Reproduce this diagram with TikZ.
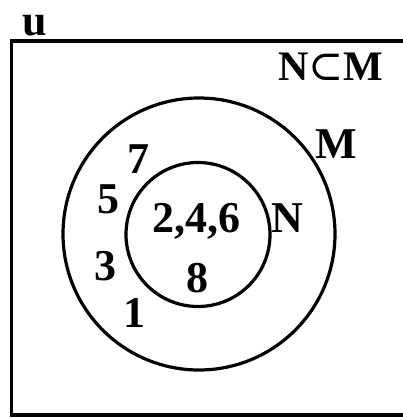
\documentclass[tikz,border=0pt]{standalone}
\usepackage{fontspec}
\setmainfont{Liberation Serif}
\newfontfamily\symfnt{DejaVu Serif}
\tikzset{lbl/.style={anchor=base,inner sep=0pt,font=\fontsize{44}{44}\selectfont\bfseries}}
\begin{document}
\begin{tikzpicture}[x=1pt,y=-1pt,line width=3.2pt]
\useasboundingbox (0,0) rectangle (403,418);
\clip (0,0) rectangle (403,418);
\draw[line width=3.6pt] (11.5,41) rectangle (420,415);
\node[draw,circle,minimum size=272,inner sep=0pt] (M) at (199,234) {};
\node[draw,circle,minimum size=144,inner sep=0pt] (N) at (198,234.5) {};
\node[lbl] (u) at (35,35) {u};
\node[lbl,font=\fontsize{42}{42}\selectfont\bfseries] (sub) at (331,80) {N{\symfnt\mdseries ⊂}M};
\node[lbl] (Mlbl) at (336,158) {M};
\node[lbl] (Nlbl) at (287,232) {N};
\node[lbl] (even) at (196,232) {2,4,6};
\node[lbl] (eight) at (197,292) {8};
\node[lbl] (seven) at (138,173) {7};
\node[lbl] (five) at (108,213) {5};
\node[lbl] (three) at (105,280) {3};
\node[lbl] (one) at (134,327) {1};
\end{tikzpicture}
\end{document}
